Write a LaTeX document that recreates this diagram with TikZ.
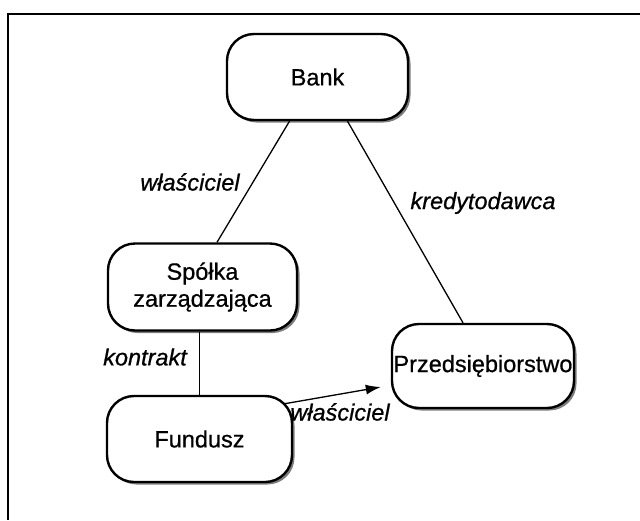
\documentclass[tikz,border=0pt]{standalone}
\usepackage{fontspec}
\setmainfont{Liberation Sans}[FakeBold=0.7]
\usetikzlibrary{shadows,arrows.meta,calc}
\begin{document}
\begin{tikzpicture}[x=1pt,y=-1pt,
  box/.style={draw, line width=2.4pt, rounded corners=27pt, fill=white,
    align=center, inner sep=0pt, font=\fontsize{23.5}{27}\selectfont,
    drop shadow={shadow xshift=2.5pt, shadow yshift=-2.5pt, fill=black!60, opacity=0.85}},
  lab/.style={font=\fontsize{23.5}{27}\selectfont\itshape, inner sep=0pt},
  con/.style={line width=1.3pt}]
\useasboundingbox (0,0) rectangle (640,520);
\fill[white] (0,0) rectangle (640,520);
% frame (top and left edges only)
\draw[line width=2pt] (640,14) -- (8,14) -- (8,520);
% nodes
\node[box, minimum width=181pt, minimum height=86pt] (bank) at (317.5,77) {Bank};
\node[box, minimum width=189pt, minimum height=87pt] (spolka) at (202.5,287) {Spółka\\zarządzająca};
\node[box, minimum width=185pt, minimum height=86pt] (fundusz) at (199.5,439) {Fundusz};
\node[box, minimum width=182pt, minimum height=84pt] (przed) at (483,366) {Przedsiębiorstwo};
% connectors
\draw[con] ([xshift=-28pt]bank.south) -- ([xshift=14.5pt]spolka.north);
\draw[con] ([xshift=30pt]bank.south) -- ([xshift=-20pt]przed.north);
\draw[con] (fundusz.north) -- (fundusz.north |- spolka.south);
\draw[con, -{Latex[length=15pt,width=10pt]}] ([xshift=-9pt,yshift=-9pt]fundusz.north east) -- ([xshift=-10pt,yshift=-21pt]przed.west);
% labels
\node[lab] (l1) at (190,182) {właściciel};
\node[lab] (l2) at (483,203) {kredytodawca};
\node[lab] (l3) at (145,357) {kontrakt};
\node[lab] (l4) at (340,412) {właściciel};
\end{tikzpicture}
\end{document}
